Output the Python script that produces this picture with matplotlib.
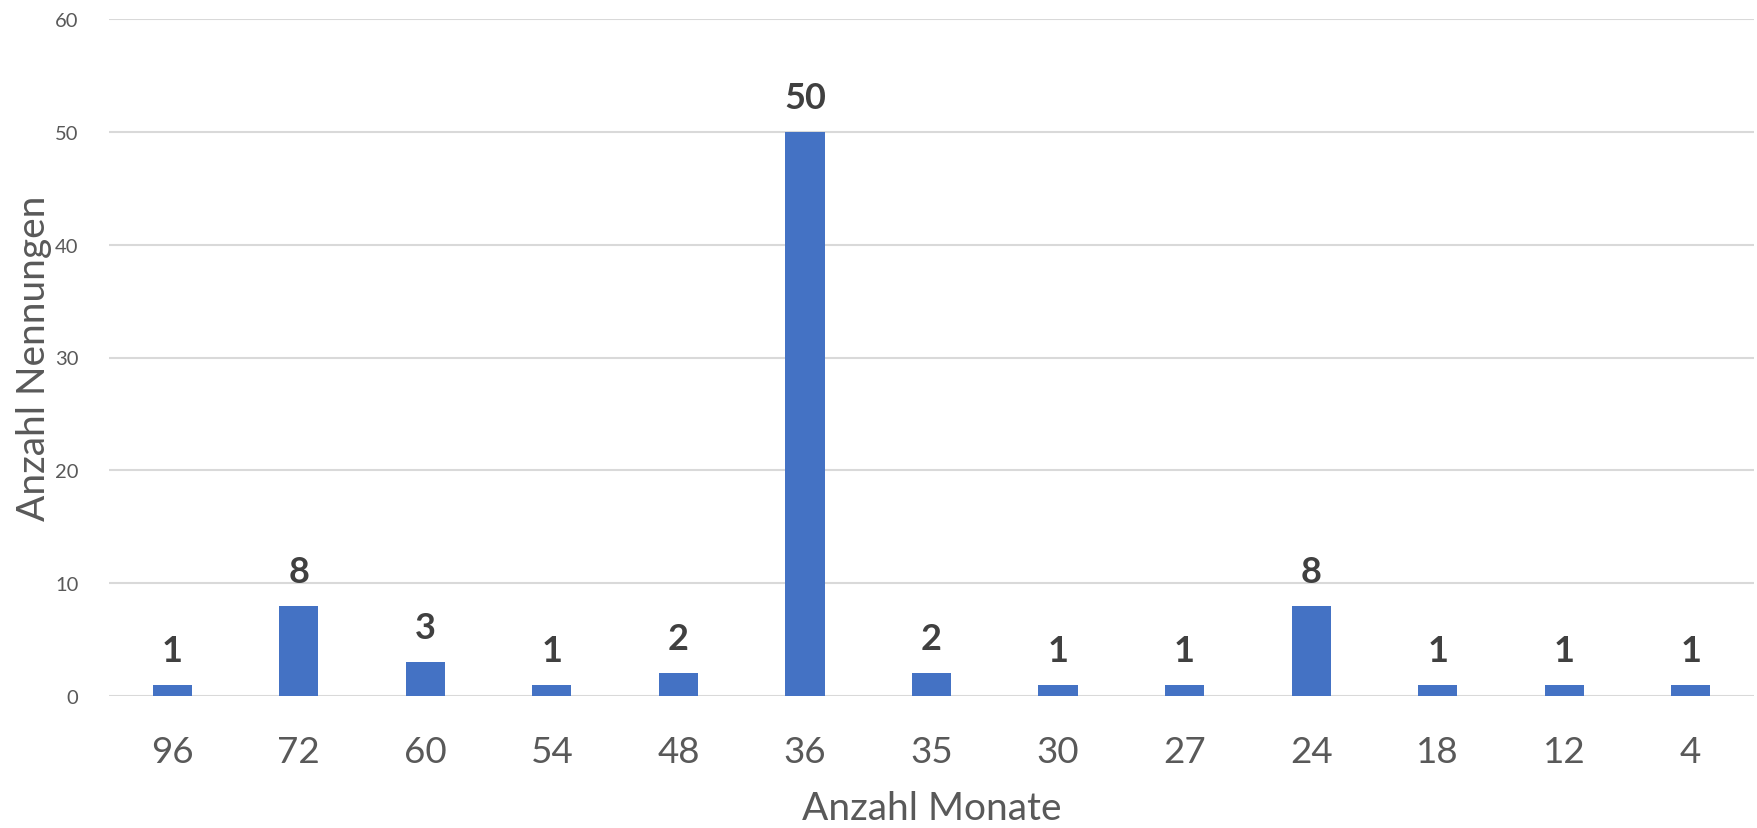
import matplotlib
matplotlib.use("Agg")
import matplotlib.pyplot as plt

categories = ["96", "72", "60", "54", "48", "36", "35", "30", "27", "24", "18", "12", "4"]
values = [1, 8, 3, 1, 2, 50, 2, 1, 1, 8, 1, 1, 1]
yticks = [0, 10, 20, 30, 40, 50, 60]

plt.rcParams['font.family'] = ['Lato', 'DejaVu Sans']

fig = plt.figure(figsize=(17.57, 8.29), dpi=100)
ax = fig.add_axes([109/1757, 1 - 697/829, (1754-109)/1757, (697-20)/829])

x = list(range(len(categories)))
bars = ax.bar(x, values, width=0.31, color="#4472C4", zorder=3)

for xi, v in zip(x, values):
    ax.annotate(str(v), (xi, v), xytext=(0, 13), textcoords="offset points",
                ha="center", va="bottom", fontsize=26, fontweight="bold", color="#404040")

ax.set_xlim(-0.5, len(categories) - 0.5)
ax.set_ylim(0, 60)
ax.set_yticks(yticks)
ax.set_yticklabels([str(t) for t in yticks], fontsize=14.5, color="#595959")
ax.set_xticks(x)
ax.set_xticklabels(categories, fontsize=26.5, color="#595959")
ax.tick_params(axis="both", length=0)
ax.tick_params(axis="x", pad=28)
ax.tick_params(axis="y", pad=22)
ax.grid(axis="y", color="#D9D9D9", linewidth=1.5, zorder=0)
for s in ax.spines.values():
    s.set_visible(False)

ax.set_xlabel("Anzahl Monate", fontsize=28, color="#595959", labelpad=16)
ax.set_ylabel("Anzahl Nennungen", fontsize=28, color="#595959", labelpad=2)

fig.savefig("out.png", dpi=100, facecolor="white")
